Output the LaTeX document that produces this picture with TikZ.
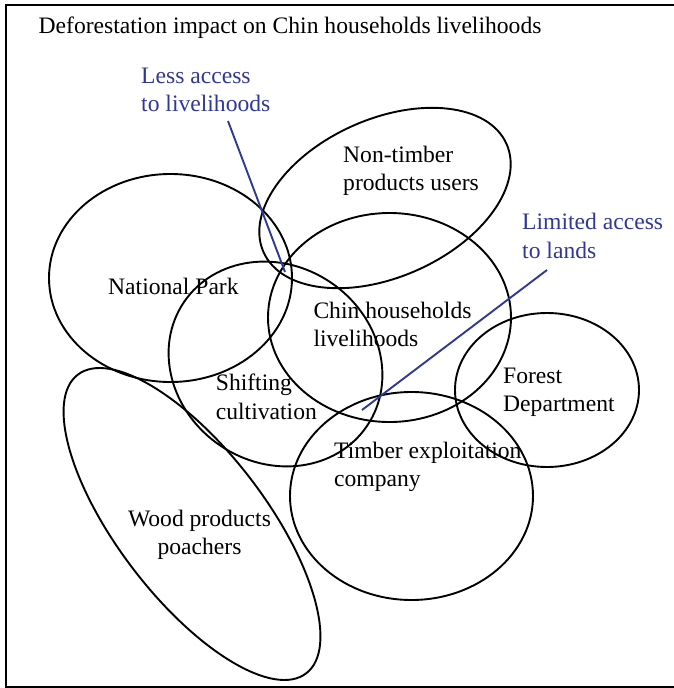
\documentclass[tikz,border=0pt]{standalone}
\usepackage{fontspec}
\setmainfont{Liberation Serif}
\usetikzlibrary{shapes.geometric}
\definecolor{lblue}{RGB}{48,56,150}
\begin{document}
\begin{tikzpicture}[x=1pt,y=-1pt,
  ring/.style={ellipse, draw=black, line width=1.9pt, inner sep=0pt, outer sep=0pt},
  lbl/.style={font=\fontsize{23.6}{28.3}\selectfont, inner sep=0pt, anchor=base west, align=left},
  blbl/.style={lbl, text=lblue},
  link/.style={draw=lblue, line width=1.9pt},
  frame/.style={draw=black, line width=2pt}]
\useasboundingbox (0,0) rectangle (673,688);
% frame (right side is cut off)
\draw[frame] (680,5) -- (6,5) -- (6,686.5) -- (680,686.5);
% ellipses
\node[ring, minimum width=243pt, minimum height=208pt] (np) at (170.5,278) {};
\node[ring, minimum width=266pt, minimum height=158pt, rotate=24] (ntp) at (385,198) {};
\node[ring, minimum width=243pt, minimum height=209pt] (chin) at (389.5,317.5) {};
\node[ring, minimum width=221pt, minimum height=197pt, rotate=-34] (shift) at (275.5,364) {};
\node[ring, minimum width=184pt, minimum height=154pt] (fd) at (547,390) {};
\node[ring, minimum width=243pt, minimum height=208pt] (tec) at (411.5,496) {};
\node[ring, minimum width=376pt, minimum height=148pt, rotate=-52.6] (wpp) at (192,524) {};
% labels (anchor = baseline of the last line)
\node[lbl] (title) at (38.5,33) {Deforestation impact on Chin households livelihoods};
\node[blbl] (less) at (141,111.7) {Less access\\to livelihoods};
\node[blbl] (limited) at (522,258) {Limited access\\to lands};
\node[lbl] (ntpl) at (343,190.5) {Non-timber\\products users};
\node[lbl] (npl) at (108,294) {National Park};
\node[lbl] (chinl) at (313.3,346.8) {Chin households\\livelihoods};
\node[lbl] (shiftl) at (215.7,419) {Shifting\\cultivation};
\node[lbl] (fdl) at (503,411.5) {Forest\\Department};
\node[lbl] (tecl) at (334,486.5) {Timber exploitation\\company};
\node[lbl, anchor=base, align=center] (wppl) at (199.5,554.5) {Wood products\\poachers};
% connectors
\coordinate (lessend) at (285,272);
\coordinate (lessstart) at (228,121);
\coordinate (limstart) at (547,270);
\coordinate (limend) at (362,410);
\draw[link] (lessstart) -- (lessend);
\draw[link] (limstart) -- (limend);
\end{tikzpicture}
\end{document}
